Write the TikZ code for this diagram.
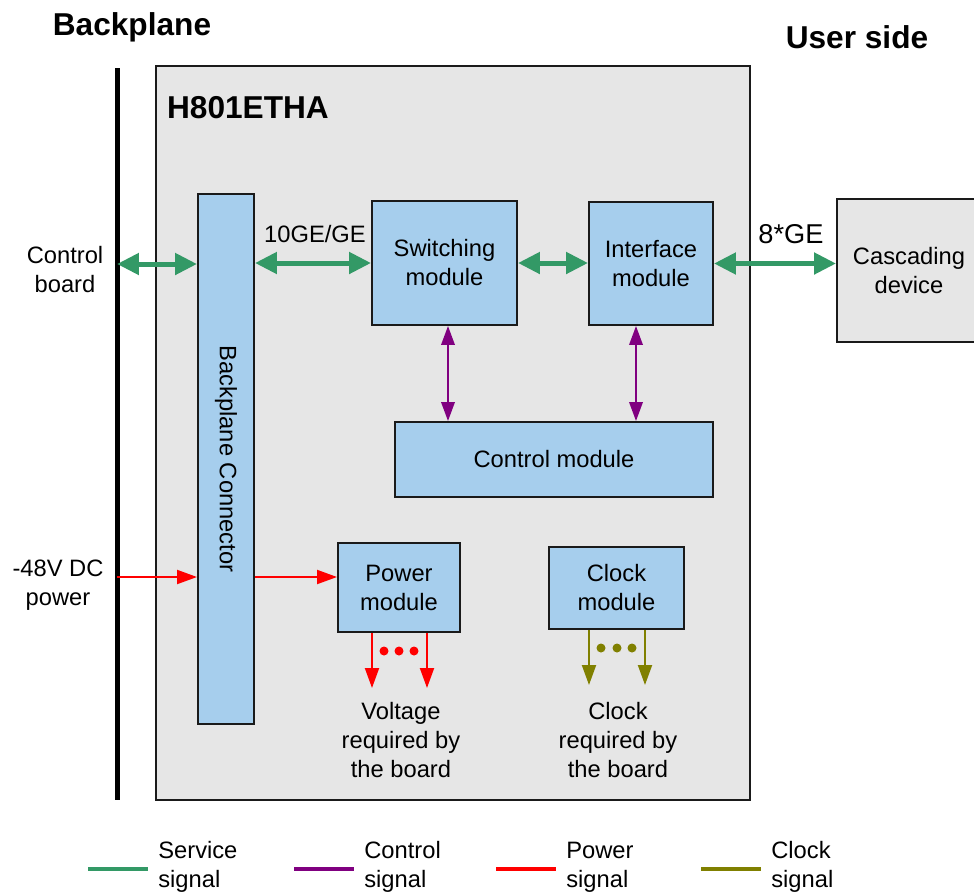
\documentclass[tikz,border=0pt]{standalone}
\usepackage{fontspec}
\setmainfont{Liberation Sans}
\usetikzlibrary{arrows.meta,positioning,calc}
\definecolor{hwInk}{HTML}{1A1A1A}
\definecolor{hwBoard}{HTML}{E6E6E6}
\definecolor{hwBlue}{HTML}{A6CEED}
\definecolor{sgGreen}{HTML}{339966}
\definecolor{sgPurple}{HTML}{800080}
\definecolor{sgRed}{HTML}{FF0000}
\definecolor{sgOlive}{HTML}{808000}
\tikzset{
  txt/.style={font=\fontsize{13.5}{16.5}\selectfont, align=center, inner sep=0pt},
  ttl/.style={font=\fontsize{18}{22}\selectfont\bfseries, inner sep=0pt},
  mod/.style={txt, draw=hwInk, fill=hwBlue, line width=0.04cm},
  brd/.style={draw=hwInk, fill=hwBoard, line width=0.04cm, inner sep=0pt},
  svc/.style={{Triangle[length=0.44cm,width=0.42cm]}-{Triangle[length=0.44cm,width=0.42cm]}, line width=0.1cm, draw=sgGreen},
  ctlsig/.style={{Triangle[length=0.38cm,width=0.27cm]}-{Triangle[length=0.38cm,width=0.27cm]}, line width=0.04cm, draw=sgPurple},
  pwrsig/.style={-{Triangle[length=0.4cm,width=0.28cm]}, line width=0.04cm, draw=sgRed},
  clksig/.style={-{Triangle[length=0.4cm,width=0.28cm]}, line width=0.04cm, draw=sgOlive},
  key/.style={line width=0.07cm},
}

\begin{document}
\begin{tikzpicture}[x=0.02cm, y=-0.02cm]
  \useasboundingbox (0,0) rectangle (974,893);
  % board and backplane
  \node[brd, minimum width=11.88cm, minimum height=14.68cm] (board) at (453,433) {};
  \coordinate (bpTop) at (117,68);
  \coordinate (bpBot) at (117,800);
  \draw[line width=0.1cm] (bpTop) -- (bpBot);
  \node[ttl] (bpTitle) at (132,27) {Backplane};
  \node[ttl] (usrTitle) at (857,37) {User side};
  \node[ttl] (brdTitle) at (248,108) {H801ETHA};

  % modules
  \node[mod, minimum width=10.6cm, minimum height=1.12cm, rotate=-90] (bpc) at (226,459) {Backplane Connector};
  \node[mod, minimum width=2.9cm, minimum height=2.48cm] (sw) at (444.5,263) {Switching\\module};
  \node[mod, minimum width=2.48cm, minimum height=2.46cm] (ifc) at (651,263.5) {Interface\\module};
  \node[mod, minimum width=6.36cm, minimum height=1.5cm] (ctrl) at (554,459.5) {Control module};
  \node[mod, minimum width=2.44cm, minimum height=1.78cm] (pwr) at (399,587.5) {Power\\module};
  \node[mod, minimum width=2.7cm, minimum height=1.64cm] (clk) at (616.5,588) {Clock\\module};
  \node[mod, fill=hwBoard, minimum width=2.8cm, minimum height=2.86cm] (casc) at (907,270.5) {};
  \node[txt] (cascLbl) at (909,270.5) {Cascading\\device};

  % labels
  \node[txt] (ctlLbl) at (65,270) {Control\\board};
  \node[txt] (dcLbl) at (58,585) {-48V DC\\power};
  \node[txt] (geLbl) at (315,234) {10GE/GE};
  \node[txt, font=\fontsize{15.5}{18}\selectfont] (ge8Lbl) at (791,234) {8*GE};
  \node[txt] (voltLbl) at (401,740) {Voltage\\required by\\the board};
  \node[txt] (clkLbl) at (618,740) {Clock\\required by\\the board};

  % service signals
  \coordinate (ctlIn) at (117,264);
  \draw[svc] (ctlIn) -- (ctlIn -| bpc.south);
  \draw[svc] (bpc.north |- sw.west) -- (sw.west);
  \draw[svc] (sw.east) -- (ifc.west |- sw.east);
  \draw[svc] (ifc.east) -- (casc.west |- ifc.east);

  % control signals
  \draw[ctlsig] ([xshift=0.07cm]sw.south) -- ([xshift=0.07cm]sw.south |- ctrl.north);
  \draw[ctlsig] ([xshift=-0.3cm]ifc.south) -- ([xshift=-0.3cm]ifc.south |- ctrl.north);

  % power
  \coordinate (dcIn) at (117,577);
  \draw[pwrsig] (dcIn) -- (dcIn -| bpc.south);
  \draw[pwrsig] (dcIn -| bpc.north) -- (dcIn -| pwr.west);
  \coordinate (v1) at (372,688);
  \coordinate (v2) at (427,688);
  \draw[pwrsig] (pwr.south -| v1) -- (v1);
  \draw[pwrsig] (pwr.south -| v2) -- (v2);
  \foreach \x in {384,399,414} \fill[sgRed] (\x,651) circle[radius=0.09cm];

  % clock
  \coordinate (c1) at (589,685);
  \coordinate (c2) at (645,685);
  \draw[clksig] (clk.south -| c1) -- (c1);
  \draw[clksig] (clk.south -| c2) -- (c2);
  \foreach \x in {601,617,632} \fill[sgOlive] (\x,648) circle[radius=0.09cm];

  % legend
  \foreach \c/\xa/\name/\lbl in {sgGreen/88/svcKey/Service, sgPurple/294/ctlKey/Control, sgRed/496/pwrKey/Power, sgOlive/701/clkKey/Clock}{
    \coordinate (\name A) at (\xa,869);
    \coordinate (\name B) at (\xa+60,869);
    \draw[key, \c] (\name A) -- (\name B);
    \node[txt, align=left, anchor=west] (\name T) at (\xa+70,867) {\lbl\\signal};
  }
\end{tikzpicture}
\end{document}
